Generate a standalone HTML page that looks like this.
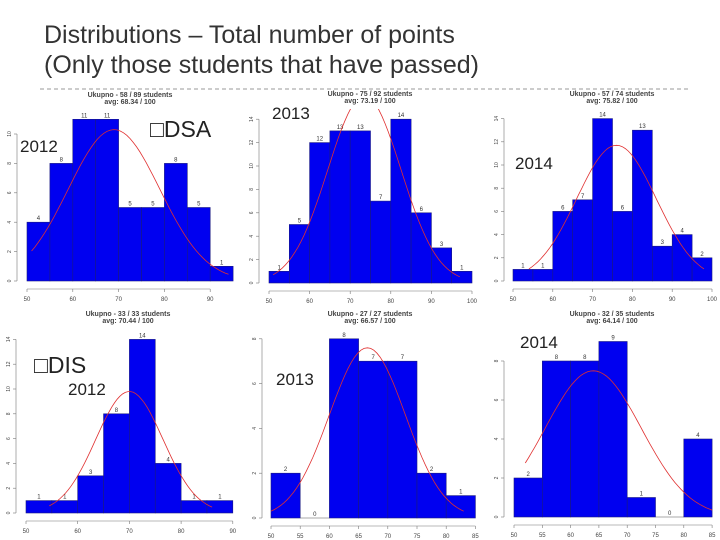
<!DOCTYPE html>
<html><head><meta charset="utf-8"><style>
body{margin:0;background:#fff;font-family:"Liberation Sans",sans-serif}
#wrap{position:relative;width:720px;height:540px;overflow:hidden}
.t{position:absolute;color:#222;white-space:nowrap}
</style></head><body>
<div id="wrap">
<div class="t" style="left:44px;top:20px;font-size:25px;line-height:30px;color:#333">Distributions – Total number of points<br>(Only those students that have passed)</div>
<svg id="s" width="720" height="540" style="position:absolute;left:0;top:0"></svg>
<div class="t" style="left:20px;top:137px;font-size:17px">2012</div>
<div class="t" style="left:150px;top:116px;font-size:23px">□DSA</div>
<div class="t" style="left:272px;top:104px;font-size:17px">2013</div>
<div class="t" style="left:515px;top:154px;font-size:17px">2014</div>
<div class="t" style="left:34px;top:352px;font-size:23px">□DIS</div>
<div class="t" style="left:68px;top:380px;font-size:17px">2012</div>
<div class="t" style="left:276px;top:370px;font-size:17px">2013</div>
<div class="t" style="left:520px;top:333px;font-size:17px">2014</div>
</div>
<script>
const p1Counts=[4,8,11,11,5,5,8,5,1];
const p2Counts=[1,5,12,13,13,7,14,6,3,1];
const p3Counts=[1,1,6,7,14,6,13,3,4,2];
const p4Counts=[1,1,3,8,14,4,1,1];
const p5Counts=[2,0,8,7,7,2,1];
const p6Counts=[2,8,8,9,1,0,4];
const titles=["Ukupno - 58 / 89 students","Ukupno - 75 / 92 students","Ukupno - 57 / 74 students","Ukupno - 33 / 33 students","Ukupno - 27 / 27 students","Ukupno - 32 / 35 students"];
const avgs=["avg: 68.34 / 100","avg: 73.19 / 100","avg: 75.82 / 100","avg: 70.44 / 100","avg: 66.57 / 100","avg: 64.14 / 100"];
const curveMean=[69,73.5,76,70,66.5,64];
const curveSd=[10,9,10,6.5,6.5,8.5];
const curvePeak=[10.3,16,11.7,9.8,7.6,7.5];
const curveFrom=[51,51,54,54.5,50,52];
const curveTo=[94,97,98,86,83,85];
const xTicks=[[50,60,70,80,90],[50,60,70,80,90,100],[50,60,70,80,90,100],[50,60,70,80,90],[50,55,60,65,70,75,80,85],[50,55,60,65,70,75,80,85]];
const yTicks=[[0,2,4,6,8,10],[0,2,4,6,8,10,12,14],[0,2,4,6,8,10,12,14],[0,2,4,6,8,10,12,14],[0,2,4,6,8],[0,2,4,6,8]];
const binW=[5,5,5,5,5,5];
const counts=[p1Counts,p2Counts,p3Counts,p4Counts,p5Counts,p6Counts];
const L=[
 {x0:27,ux:4.58,base:281,uy:14.7,ax:13,ty:97,cx:130},
 {x0:269,ux:4.06,base:283,uy:11.7,ax:255,ty:96,cx:370},
 {x0:513,ux:3.98,base:281,uy:11.6,ax:500,ty:96,cx:612},
 {x0:26,ux:5.17,base:513,uy:12.4,ax:12,ty:316,cx:128},
 {x0:271,ux:5.84,base:518,uy:22.4,ax:258,ty:316,cx:370},
 {x0:514,ux:5.66,base:517,uy:19.5,ax:500,ty:316,cx:612}];
const NS="http://www.w3.org/2000/svg",svg=document.getElementById('s');
function mk(t,a,par){const e=document.createElementNS(NS,t);for(const k in a)e.setAttribute(k,a[k]);(par||svg).appendChild(e);return e;}
mk('line',{x1:40,y1:89,x2:690,y2:89,stroke:'#999','stroke-dasharray':'4,3','stroke-width':1});
const defs=mk('defs',{});
counts.forEach((c,i)=>{
 const l=L[i];
 const X=v=>l.x0+(v-50)*l.ux, Y=v=>l.base-v*l.uy;
 const cp=mk('clipPath',{id:'cp'+i},defs);
 mk('rect',{x:0,y:l.ty+13,width:720,height:300},cp);
 const g=mk('g',{});
 
 
 let t=mk('text',{x:l.cx,y:l.ty,'font-size':7,'text-anchor':'middle',fill:'#444','font-weight':'bold'},g);t.textContent=titles[i];
 
 t=mk('text',{x:l.cx,y:l.ty+7,'font-size':7,'text-anchor':'middle',fill:'#444','font-weight':'bold'},g);t.textContent=avgs[i];
 
 c.forEach((v,j)=>{
  const a=50+j*binW[i],b=a+binW[i];
  if(v>0){const r=mk('rect',{x:X(a),y:Y(v),width:X(b)-X(a),height:v*l.uy,fill:'#0000f0',stroke:'#1a1a80','stroke-width':0.6},g);
   }
  else mk('line',{x1:X(a),x2:X(b),y1:l.base,y2:l.base,stroke:'#555','stroke-width':0.6},g);
  const tl=mk('text',{x:(X(a)+X(b))/2,y:Y(v)-2,'font-size':6,'text-anchor':'middle',fill:'#333'},g);tl.textContent=v;
  
 });
 const xt=xTicks[i];
 mk('line',{x1:X(xt[0]),x2:X(xt[xt.length-1]),y1:l.base+8,y2:l.base+8,stroke:'#777','stroke-width':0.6},g);
 xt.forEach(v=>{mk('line',{x1:X(v),x2:X(v),y1:l.base+8,y2:l.base+11,stroke:'#777','stroke-width':0.6},g);
  const e=mk('text',{x:X(v),y:l.base+20,'font-size':6,'text-anchor':'middle',fill:'#444'},g);e.textContent=v;
  });
 const yt=yTicks[i];
 mk('line',{x1:l.ax+4,x2:l.ax+4,y1:Y(yt[0]),y2:Y(yt[yt.length-1]),stroke:'#777','stroke-width':0.6},g);
 yt.forEach(v=>{mk('line',{x1:l.ax+1,x2:l.ax+4,y1:Y(v),y2:Y(v),stroke:'#777','stroke-width':0.6},g);
  const e=mk('text',{x:l.ax-2,y:Y(v),'font-size':5,'text-anchor':'middle',fill:'#444',transform:`rotate(-90 ${l.ax-2} ${Y(v)})`},g);e.textContent=v;
  });
 let d='';for(let k=0;k<=60;k++){const x=curveFrom[i]+(curveTo[i]-curveFrom[i])*k/60;
  const y=curvePeak[i]*Math.exp(-Math.pow(x-curveMean[i],2)/(2*curveSd[i]*curveSd[i]));
  d+=(k?'L':'M')+X(x).toFixed(1)+','+Y(y).toFixed(1);}
 const p=mk('path',{d:d,fill:'none',stroke:'#e03030','stroke-width':0.8,'clip-path':'url(#cp'+i+')'},g);
 
});
</script>
</body></html>
